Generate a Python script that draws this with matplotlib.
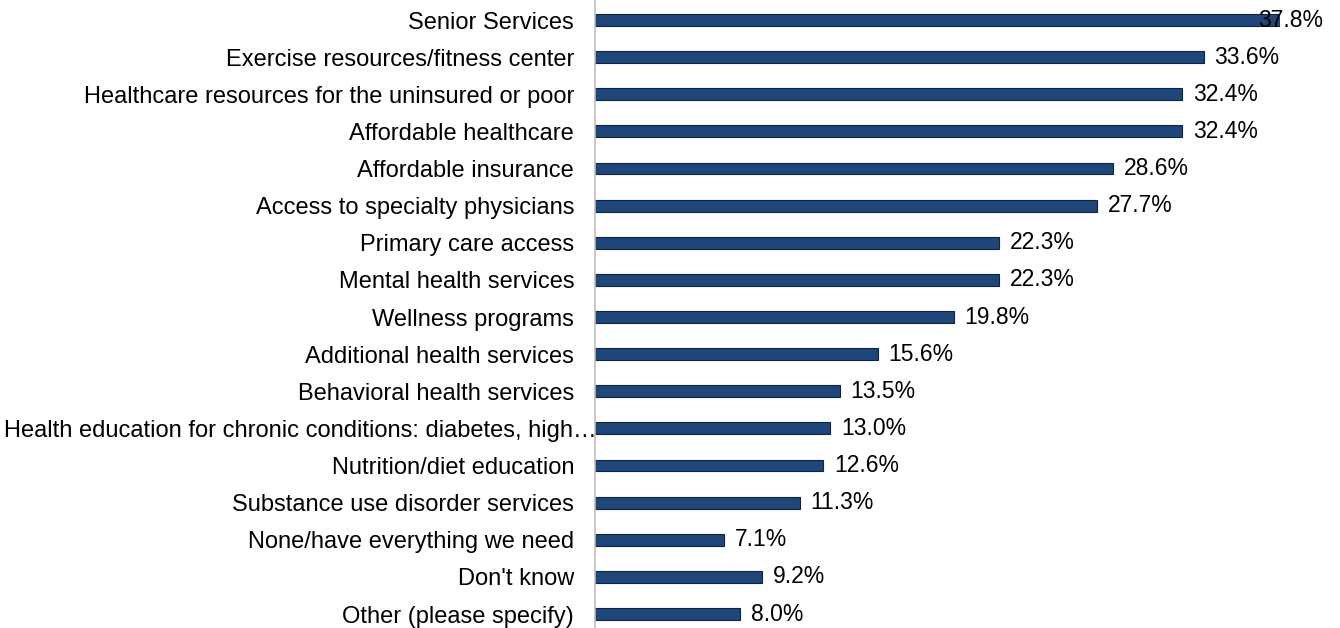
import matplotlib.pyplot as plt
import matplotlib.transforms as mtransforms
import numpy as np

plt.rcParams['font.family'] = ['Liberation Sans', 'DejaVu Sans']

# ---------------------------------------------------------
# DATA
# ---------------------------------------------------------
categories = [
    "Senior Services",
    "Exercise resources/fitness center",
    "Healthcare resources for the uninsured or poor",
    "Affordable healthcare",
    "Affordable insurance",
    "Access to specialty physicians",
    "Primary care access",
    "Mental health services",
    "Wellness programs",
    "Additional health services",
    "Behavioral health services",
    "Health education for chronic conditions: diabetes, high\u2026",
    "Nutrition/diet education",
    "Substance use disorder services",
    "None/have everything we need",
    "Don't know",
    "Other (please specify)",
]
values = [37.8, 33.6, 32.4, 32.4, 28.6, 27.7, 22.3, 22.3, 19.8, 15.6,
          13.5, 13.0, 12.6, 11.3, 7.1, 9.2, 8.0]
value_labels = [f"{v:.1f}%" for v in values]

# ---------------------------------------------------------
# PLOT
# ---------------------------------------------------------
fig = plt.figure(figsize=(13.4, 6.28), dpi=100)
ax = fig.add_axes([0.444, -0.0073, 0.511, 1.005])

y = np.arange(len(categories))
ax.barh(y, values, height=0.32, color="#1f4678", edgecolor="#0f2442", linewidth=0.8)

xmax = max(values)
ax.set_xlim(0, xmax)
ax.set_ylim(len(categories) - 0.5, -0.5)

for yi, v, lab in zip(y, values, value_labels):
    x = min(v + 0.6, xmax - 1.2)
    ax.text(x, yi, lab, va="center", ha="left", fontsize=16.5, color="black", clip_on=False)

ax.set_yticks(y)
ax.set_yticklabels(categories, fontsize=17)
ax.tick_params(axis="y", length=0, pad=15)
ax.set_xticks([])

# the long truncated label sits further right, running up to the axis line
long_lab = ax.get_yticklabels()[11]
shift = mtransforms.ScaledTranslation(22 / 100, 0, fig.dpi_scale_trans)
long_lab.set_transform(long_lab.get_transform() + shift)

for s in ["top", "right", "bottom"]:
    ax.spines[s].set_visible(False)
ax.spines["left"].set_color("#bfbfbf")
ax.spines["left"].set_linewidth(1.2)

fig.savefig("out.png", dpi=100)
